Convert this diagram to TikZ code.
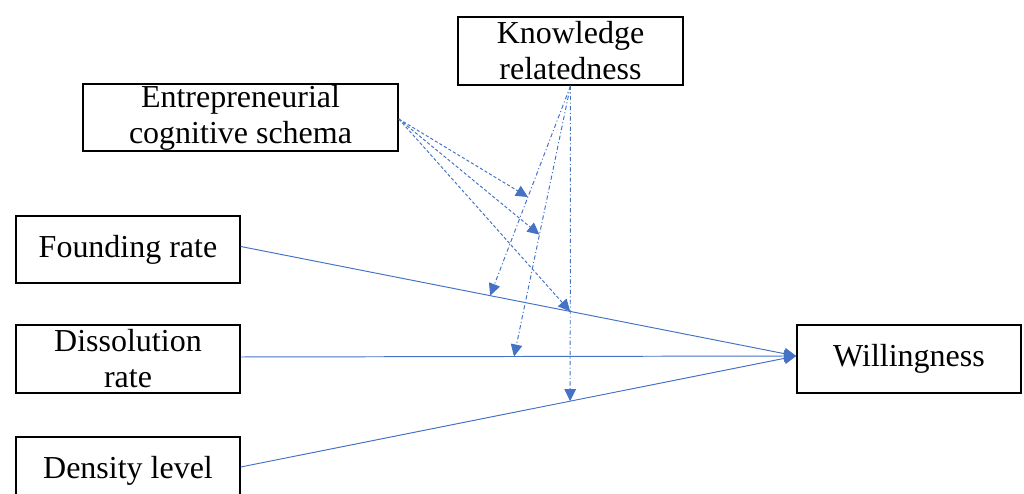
\documentclass[tikz,border=0pt]{standalone}
\usepackage{fontspec}
\setmainfont{Liberation Serif}
\usepackage{xcolor}
\usetikzlibrary{calc,arrows.meta}
\definecolor{lnblue}{RGB}{68,114,196}

\begin{document}
\begin{tikzpicture}[font=\fontsize{18.2}{20.5}\selectfont,
 b/.style={draw,line width=0.9pt,align=center,inner sep=0pt,minimum width=4.48cm,minimum height=1.36cm},
 ar/.style={-{Triangle[length=2.4mm,width=2.3mm]},lnblue,line width=0.55pt},
 modk/.style={ar,dash pattern=on 2.4pt off 1.4pt on 0.6pt off 1.4pt},
 mode/.style={ar,dash pattern=on 1.8pt off 1.2pt}]
\useasboundingbox (0,0) rectangle (20.48,9.88);
\node[b,minimum width=4.5cm] (kr) at (11.41,8.86) {Knowledge\\ relatedness};
\node[b,minimum width=6.3cm,minimum height=1.34cm] (ecs) at (4.81,7.53) {Entrepreneurial\\ cognitive schema};
\node[b,minimum height=1.34cm] (fr) at (2.56,4.89) {Founding rate};
\node[b] (dr) at (2.56,2.70) {Dissolution\\ rate};
\node[b] (dl) at (2.56,0.46) {Density level};
\node[b] (wil) at (18.18,2.70) {Willingness};
% main effects
\draw[ar] ($(fr.east)+(0,0.06)$) coordinate (f0) -- ($(wil.west)+(0,0.06)$) coordinate (w0);
\draw[ar] ($(dr.east)+(0,0.04)$) coordinate (d0) -- (w0);
\draw[ar] ($(dl.east)+(0,0.08)$) coordinate (l0) -- (w0);
% points on the main effects
\coordinate (mf1) at ($(f0)!0.449!(w0)$);
\coordinate (mf2) at ($(f0)!0.593!(w0)$);
\coordinate (md) at ($(d0)!0.492!(w0)$);
\coordinate (ml) at ($(l0)!0.593!(w0)$);
% moderation by knowledge relatedness
\draw[modk] (kr.south) -- (mf1);
\draw[modk] (kr.south) -- (md);
\draw[modk] (kr.south) -- (ml);
\coordinate (mk1) at ($(kr.south)!0.53!(mf1)$);
\coordinate (mk2) at ($(kr.south)!0.55!(md)$);
% moderation by cognitive schema
\draw[mode] ($(ecs.east)+(0,-0.03)$) -- (mk1);
\draw[mode] ($(ecs.east)+(0,-0.03)$) -- (mk2);
\draw[mode] ($(ecs.east)+(0,-0.03)$) -- (mf2);
\end{tikzpicture}
\end{document}
